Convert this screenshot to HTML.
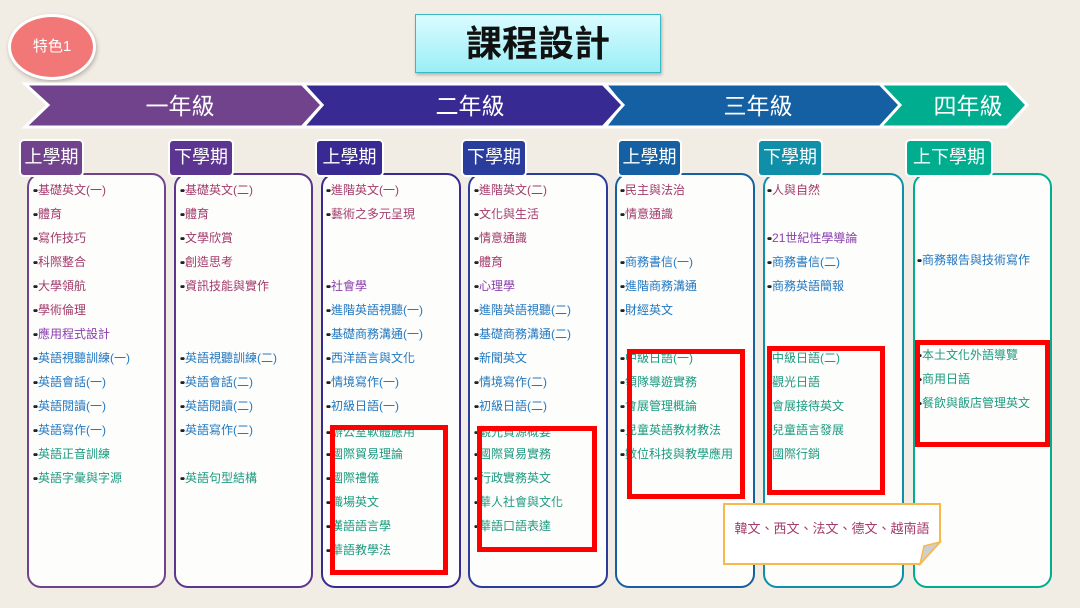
<!DOCTYPE html>
<html><head><meta charset="utf-8"><style>
body{margin:0;width:1080px;height:608px;overflow:hidden;background:#f2ede4;font-family:"Liberation Sans","Noto Sans CJK TC",sans-serif;position:relative}
.a{position:absolute}
.i{position:absolute;font-size:12px;line-height:16px;white-space:nowrap}
.i:before{content:"••";color:#222;font-size:10px;font-weight:bold;letter-spacing:-2px;margin-right:2px}
.m{color:#a23b6b}.p{color:#8a3fae}.b{color:#2378c0}.t{color:#1d9a80}
.box{position:absolute;top:173px;height:411px;border:2px solid;border-radius:14px;background:#fdfdfc}
.lab{position:absolute;top:141px;height:34px;color:#fff;font-size:18px;line-height:32px;text-align:center;border-radius:3px;box-shadow:0 0 0 2px #fff}
.red{position:absolute;border:5px solid #ff0000;box-sizing:border-box}
</style></head><body>
<div class="a" style="left:8px;top:14px;width:82px;height:60px;border-radius:50%;background:#f27878;border:3px solid #fff;box-shadow:1px 2px 4px rgba(0,0,0,.25);color:#fff;font-size:15px;line-height:60px;text-align:center">特色1</div>
<div class="a" style="left:415px;top:14px;width:244px;height:57px;background:linear-gradient(#dafcff,#9beef6);border:1px solid #3bb8c4;box-shadow:1px 2px 3px rgba(0,0,0,.25);font-size:36px;font-weight:bold;line-height:57px;text-align:center;color:#111">課程設計</div>
<svg class="a" style="left:0;top:0" width="1080" height="140">
<g stroke="#fff" stroke-width="3">
<polygon points="880,84 1007,84 1027,105 1007,127 880,127 898,105" fill="#00ad8f"/>
<polygon points="605,84 880,84 900,105 880,127 605,127 622,105" fill="#1560a3"/>
<polygon points="303,84 603,84 623,105 603,127 303,127 322,105" fill="#372b93"/>
<polygon points="25,84 302,84 322,105 302,127 25,127 48,105" fill="#71438c"/>
</g>
<g fill="#fff" font-size="23" text-anchor="middle" font-family="Liberation Sans,Noto Sans CJK TC,sans-serif">
<text x="180" y="114">一年級</text><text x="470" y="114">二年級</text><text x="758" y="114">三年級</text><text x="968" y="114">四年級</text></g>
</svg>
<div class="box" style="left:27px;width:135px;border-color:#71438c"></div>
<div class="box" style="left:174px;width:135px;border-color:#5c3590"></div>
<div class="box" style="left:321px;width:136px;border-color:#372b93"></div>
<div class="box" style="left:468px;width:136px;border-color:#2a3d9c"></div>
<div class="box" style="left:615px;width:136px;border-color:#1560a3"></div>
<div class="box" style="left:763px;width:137px;border-color:#0f8fa8"></div>
<div class="box" style="left:913px;width:135px;border-color:#00ad8f"></div>
<div class="lab" style="left:21px;width:61px;background:#71438c">上學期</div>
<div class="lab" style="left:170px;width:62px;background:#5c3590">下學期</div>
<div class="lab" style="left:317px;width:65px;background:#372b93">上學期</div>
<div class="lab" style="left:463px;width:62px;background:#2a3d9c">下學期</div>
<div class="lab" style="left:619px;width:61px;background:#1560a3">上學期</div>
<div class="lab" style="left:759px;width:62px;background:#0f8fa8">下學期</div>
<div class="lab" style="left:907px;width:84px;background:#00ad8f">上下學期</div>

<div class="i m" style="left:33px;top:182px">基礎英文(一)</div>
<div class="i m" style="left:33px;top:206px">體育</div>
<div class="i m" style="left:33px;top:230px">寫作技巧</div>
<div class="i m" style="left:33px;top:254px">科際整合</div>
<div class="i m" style="left:33px;top:278px">大學領航</div>
<div class="i m" style="left:33px;top:302px">學術倫理</div>
<div class="i p" style="left:33px;top:326px">應用程式設計</div>
<div class="i b" style="left:33px;top:350px">英語視聽訓練(一)</div>
<div class="i b" style="left:33px;top:374px">英語會話(一)</div>
<div class="i b" style="left:33px;top:398px">英語閱讀(一)</div>
<div class="i b" style="left:33px;top:422px">英語寫作(一)</div>
<div class="i t" style="left:33px;top:446px">英語正音訓練</div>
<div class="i t" style="left:33px;top:470px">英語字彙與字源</div>

<div class="i m" style="left:180px;top:182px">基礎英文(二)</div>
<div class="i m" style="left:180px;top:206px">體育</div>
<div class="i m" style="left:180px;top:230px">文學欣賞</div>
<div class="i m" style="left:180px;top:254px">創造思考</div>
<div class="i m" style="left:180px;top:278px">資訊技能與實作</div>
<div class="i b" style="left:180px;top:350px">英語視聽訓練(二)</div>
<div class="i b" style="left:180px;top:374px">英語會話(二)</div>
<div class="i b" style="left:180px;top:398px">英語閱讀(二)</div>
<div class="i b" style="left:180px;top:422px">英語寫作(二)</div>
<div class="i t" style="left:180px;top:470px">英語句型結構</div>

<div class="i m" style="left:326px;top:182px">進階英文(一)</div>
<div class="i m" style="left:326px;top:206px">藝術之多元呈現</div>
<div class="i p" style="left:326px;top:278px">社會學</div>
<div class="i b" style="left:326px;top:302px">進階英語視聽(一)</div>
<div class="i b" style="left:326px;top:326px">基礎商務溝通(一)</div>
<div class="i b" style="left:326px;top:350px">西洋語言與文化</div>
<div class="i b" style="left:326px;top:374px">情境寫作(一)</div>
<div class="i b" style="left:326px;top:398px">初級日語(一)</div>
<div class="i t" style="left:326px;top:424px">辦公室軟體應用</div>
<div class="i t" style="left:326px;top:446px">國際貿易理論</div>
<div class="i t" style="left:326px;top:470px">國際禮儀</div>
<div class="i t" style="left:326px;top:494px">職場英文</div>
<div class="i t" style="left:326px;top:518px">漢語語言學</div>
<div class="i t" style="left:326px;top:542px">華語教學法</div>

<div class="i m" style="left:474px;top:182px">進階英文(二)</div>
<div class="i m" style="left:474px;top:206px">文化與生活</div>
<div class="i m" style="left:474px;top:230px">情意通識</div>
<div class="i m" style="left:474px;top:254px">體育</div>
<div class="i p" style="left:474px;top:278px">心理學</div>
<div class="i b" style="left:474px;top:302px">進階英語視聽(二)</div>
<div class="i b" style="left:474px;top:326px">基礎商務溝通(二)</div>
<div class="i b" style="left:474px;top:350px">新聞英文</div>
<div class="i b" style="left:474px;top:374px">情境寫作(二)</div>
<div class="i b" style="left:474px;top:398px">初級日語(二)</div>
<div class="i t" style="left:474px;top:424px">觀光資源概要</div>
<div class="i t" style="left:474px;top:446px">國際貿易實務</div>
<div class="i t" style="left:474px;top:470px">行政實務英文</div>
<div class="i t" style="left:474px;top:494px">華人社會與文化</div>
<div class="i t" style="left:474px;top:518px">華語口語表達</div>

<div class="i m" style="left:620px;top:182px">民主與法治</div>
<div class="i m" style="left:620px;top:206px">情意通識</div>
<div class="i b" style="left:620px;top:254px">商務書信(一)</div>
<div class="i b" style="left:620px;top:278px">進階商務溝通</div>
<div class="i b" style="left:620px;top:302px">財經英文</div>
<div class="i t" style="left:620px;top:350px">中級日語(一)</div>
<div class="i t" style="left:620px;top:374px">領隊導遊實務</div>
<div class="i t" style="left:620px;top:398px">會展管理概論</div>
<div class="i t" style="left:620px;top:422px">兒童英語教材教法</div>
<div class="i t" style="left:620px;top:446px">數位科技與教學應用</div>

<div class="i m" style="left:767px;top:182px">人與自然</div>
<div class="i p" style="left:767px;top:230px">21世紀性學導論</div>
<div class="i b" style="left:767px;top:254px">商務書信(二)</div>
<div class="i b" style="left:767px;top:278px">商務英語簡報</div>
<div class="i t" style="left:767px;top:350px">中級日語(二)</div>
<div class="i t" style="left:767px;top:374px">觀光日語</div>
<div class="i t" style="left:767px;top:398px">會展接待英文</div>
<div class="i t" style="left:767px;top:422px">兒童語言發展</div>
<div class="i t" style="left:767px;top:446px">國際行銷</div>

<div class="i b" style="left:917px;top:252px">商務報告與技術寫作</div>
<div class="i t" style="left:917px;top:347px">本土文化外語導覽</div>
<div class="i t" style="left:917px;top:371px">商用日語</div>
<div class="i t" style="left:917px;top:395px">餐飲與飯店管理英文</div>

<div class="red" style="left:330px;top:425px;width:118px;height:150px"></div>
<div class="red" style="left:477px;top:426px;width:120px;height:126px"></div>
<div class="red" style="left:627px;top:349px;width:118px;height:150px"></div>
<div class="red" style="left:767px;top:346px;width:118px;height:149px"></div>
<div class="red" style="left:915px;top:340px;width:135px;height:107px"></div>

<svg class="a" style="left:722px;top:502px" width="222" height="64">
<polygon points="2,2 218,2 218,40 198,62 2,62" fill="#fff" stroke="#f9b94a" stroke-width="2"/>
<polygon points="218,40 202,44 198,62" fill="#cfcfcf" stroke="#f9b94a" stroke-width="1.5"/>
</svg>
<div class="a" style="left:724px;top:518px;width:216px;text-align:center;font-size:13px;color:#a23b6b">韓文、西文、法文、德文、越南語</div>
</body></html>
